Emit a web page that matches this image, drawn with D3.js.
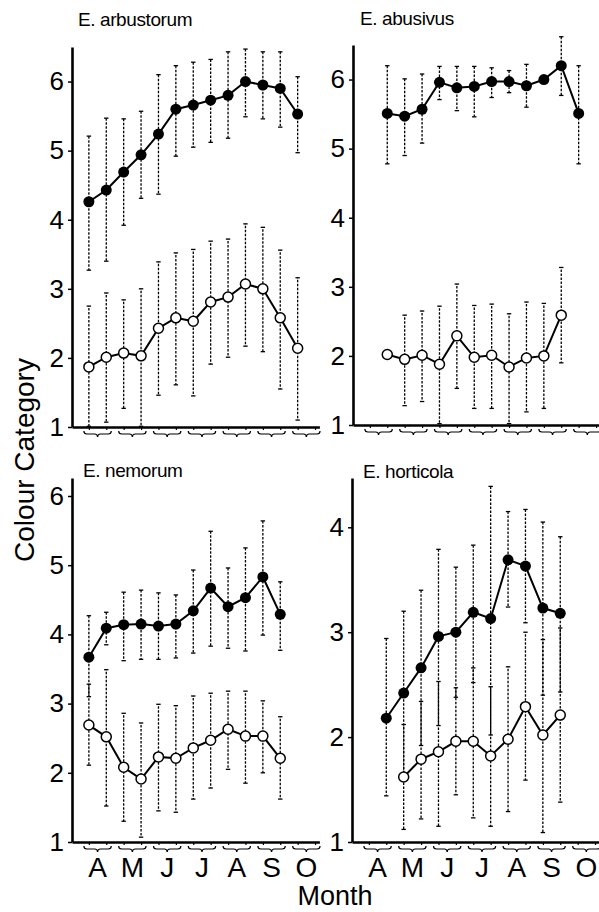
<!DOCTYPE html>
<html>
<head>
<meta charset="utf-8">
<script src="https://cdn.jsdelivr.net/npm/d3@7"></script>
<style>
    body { margin: 0; background: #fff; }
    svg { display: block; }
    text { font-family: "Liberation Sans", Arial, Helvetica, sans-serif; fill: #000; }
</style>
</head>
<body>
<div id="chart"></div>
<script>

// Half-month sampling periods (first / second half of each month)
const halfMonths = ["Apr-1", "Apr-2", "May-1", "May-2", "Jun-1", "Jun-2", "Jul-1", "Jul-2",
                    "Aug-1", "Aug-2", "Sep-1", "Sep-2", "Oct-1", "Oct-2"]
const monthLabels = ["A", "M", "J", "J", "A", "S", "O"]
const yTicksWide = [1, 2, 3, 4, 5, 6]
const yTicksHort = [1, 2, 3, 4]

// E. arbustorum
const arbDarkMean = [4.26, 4.43, 4.69, 4.94, 5.24, 5.60, 5.66, 5.73, 5.80, 6.00, 5.95, 5.90, 5.53, null]
const arbDarkHi   = [5.21, 5.47, 5.46, 5.57, 6.10, 6.23, 6.28, 6.32, 6.43, 6.47, 6.43, 6.43, 6.07, null]
const arbDarkLo   = [3.27, 3.40, 3.92, 4.31, 4.37, 4.92, 5.05, 5.12, 5.18, 5.49, 5.46, 5.34, 4.97, null]
const arbPaleMean = [1.87, 2.01, 2.07, 2.03, 2.43, 2.58, 2.53, 2.81, 2.88, 3.07, 3.00, 2.58, 2.14, null]
const arbPaleHi   = [2.75, 2.94, 2.84, 3.00, 3.39, 3.52, 3.57, 3.69, 3.72, 3.94, 3.89, 3.56, 3.16, null]
const arbPaleLo   = [1.01, 1.07, 1.27, 1.01, 1.46, 1.61, 1.45, 1.91, 2.01, 2.17, 2.09, 1.55, 1.10, null]

// E. abusivus
const abuDarkMean = [null, 5.51, 5.47, 5.57, 5.96, 5.88, 5.90, 5.97, 5.97, 5.91, 6.00, 6.20, 5.51, null]
const abuDarkHi   = [null, 6.20, 6.01, 6.08, 6.19, 6.19, 6.19, 6.17, 6.13, 6.22, null, 6.62, 6.20, null]
const abuDarkLo   = [null, 4.78, 4.90, 5.08, 5.71, 5.55, 5.46, 5.74, 5.81, 5.60, null, 5.77, 4.78, null]
const abuPaleMean = [null, 2.02, 1.95, 2.01, 1.88, 2.29, 1.98, 2.01, 1.84, 1.97, 2.00, 2.59, null, null]
const abuPaleHi   = [null, null, 2.59, 2.65, 2.72, 3.04, 2.73, 2.75, 2.61, 2.78, 2.76, 3.28, null, null]
const abuPaleLo   = [null, null, 1.28, 1.34, 1.02, 1.53, 1.24, 1.24, 1.02, 1.19, 1.24, 1.90, null, null]

// E. nemorum
const nemDarkMean = [3.67, 4.09, 4.14, 4.15, 4.12, 4.15, 4.34, 4.67, 4.40, 4.53, 4.83, 4.29, null, null]
const nemDarkHi   = [4.27, 4.32, 4.61, 4.64, 4.60, 4.57, 4.93, 5.49, 4.96, 5.25, 5.64, 4.76, null, null]
const nemDarkLo   = [3.10, 3.85, 3.62, 3.64, 3.64, 3.66, 3.73, 3.83, 3.80, 3.76, 3.99, 3.77, null, null]
const nemPaleMean = [2.69, 2.52, 2.08, 1.91, 2.23, 2.21, 2.36, 2.47, 2.63, 2.53, 2.53, 2.21, null, null]
const nemPaleHi   = [3.28, 3.49, 2.86, 2.72, 2.99, 2.97, 3.11, 3.15, 3.18, 3.18, 3.04, 2.81, null, null]
const nemPaleLo   = [2.11, 1.52, 1.30, 1.07, 1.45, 1.43, 1.62, 1.78, 2.05, 1.85, 2.00, 1.62, null, null]

// E. horticola
const horDarkMean = [null, 2.18, 2.42, 2.66, 2.96, 3.00, 3.19, 3.13, 3.69, 3.63, 3.23, 3.18, null, null]
const horDarkHi   = [null, 2.94, 3.20, 3.40, 3.79, 3.62, 3.83, 4.39, 4.15, 4.17, 4.05, 3.91, null, null]
const horDarkLo   = [null, 1.44, 1.66, 1.92, 2.11, 2.38, 2.52, 2.02, 3.24, 3.09, 2.40, 2.43, null, null]
const horPaleMean = [null, null, 1.62, 1.79, 1.86, 1.96, 1.96, 1.82, 1.98, 2.29, 2.02, 2.21, null, null]
const horPaleHi   = [null, null, 2.12, 2.34, 2.53, 2.47, 2.66, 2.48, 2.67, 3.00, 2.93, 3.04, null, null]
const horPaleLo   = [null, null, 1.12, 1.22, 1.15, 1.45, 1.23, 1.15, 1.29, 1.59, 1.09, 1.38, null, null]

// Panel layout (positions only)
let panels = [
    {title: "E. arbustorum", tx: 78, ty: 26, axisX: 72, yBottom: 427, yTop: 47, yMax: 6.5, ticks: yTicksWide, labels: false,
     dark: [arbDarkMean, arbDarkHi, arbDarkLo], pale: [arbPaleMean, arbPaleHi, arbPaleLo]},
    {title: "E. abusivus", tx: 360, ty: 25, axisX: 353, yBottom: 425, yTop: 45, yMax: 6.5, ticks: yTicksWide, labels: false,
     dark: [abuDarkMean, abuDarkHi, abuDarkLo], pale: [abuPaleMean, abuPaleHi, abuPaleLo]},
    {title: "E. nemorum", tx: 83, ty: 477, axisX: 72, yBottom: 842, yTop: 478, yMax: 6.26, ticks: yTicksWide, labels: true,
     dark: [nemDarkMean, nemDarkHi, nemDarkLo], pale: [nemPaleMean, nemPaleHi, nemPaleLo]},
    {title: "E. horticola", tx: 363, ty: 478, axisX: 352, yBottom: 842, yTop: 478, yMax: 4.47, ticks: yTicksHort, labels: true,
     dark: [horDarkMean, horDarkHi, horDarkLo], pale: [horPaleMean, horPaleHi, horPaleLo]}
]

let svg = d3.select("#chart").append("svg")
    .attr("width", 599)
    .attr("height", 912)

function toPoints(series){
    return series[0].map((v, i) => ({i: i, v: v, hi: series[1][i], lo: series[2][i]}))
        .filter(d => d.v != null)
}

panels.forEach(p => {

    let x = d3.scaleLinear()
        .domain([-0.97, 13.25])
        .range([p.axisX, p.axisX + 247.4])

    let y = d3.scaleLinear()
        .domain([1, p.yMax])
        .range([p.yBottom, p.yTop])

    let g = svg.append("g")

    // Title
    g.append("text")
        .attr("x", p.tx)
        .attr("y", p.ty)
        .style("font-size", "19px")
        .style("letter-spacing", "-0.4px")
        .text(p.title)

    // Y axis
    let yAxis = g.append("g")
        .attr("transform", `translate(${p.axisX},0)`)
        .call(d3.axisLeft(y).tickValues(p.ticks).tickFormat(d3.format("d")).tickSize(4).tickPadding(4).tickSizeOuter(0))
    yAxis.select(".domain").attr("stroke-width", 2.6)
    yAxis.selectAll(".tick line").attr("stroke-width", 1.5)
    yAxis.selectAll(".tick text").style("font-size", "26px").attr("font-family", null)

    // X axis with half-month ticks
    let xAxis = g.append("g")
        .attr("transform", `translate(0,${p.yBottom})`)
        .call(d3.axisBottom(x).tickValues(d3.range(halfMonths.length)).tickSize(3).tickFormat("").tickSizeOuter(0))
    xAxis.select(".domain").attr("stroke-width", 2.6)
    xAxis.selectAll(".tick line").attr("stroke-width", 1.2)

    // Braces grouping the two halves of each month
    let braces = g.append("g")
    monthLabels.forEach((m, k) => {
        let x1 = x(2 * k) - 5, x2 = x(2 * k + 1) + 5, xc = (x1 + x2) / 2
        let y0 = p.yBottom + 7
        let path = d3.path()
        path.moveTo(x1, y0 - 3)
        path.quadraticCurveTo(x1, y0, x1 + 3, y0)
        path.lineTo(xc - 3, y0)
        path.quadraticCurveTo(xc, y0, xc, y0 + 3)
        path.quadraticCurveTo(xc, y0, xc + 3, y0)
        path.lineTo(x2 - 3, y0)
        path.quadraticCurveTo(x2, y0, x2, y0 - 3)
        braces.append("path")
            .attr("d", path.toString())
            .attr("fill", "none")
            .attr("stroke", "#000")
            .attr("stroke-width", 1.2)

        if(p.labels){
            g.append("text")
                .attr("x", xc)
                .attr("y", 877)
                .attr("text-anchor", "middle")
                .style("font-size", "28px")
                .text(m)
        }
    })

    let dark = toPoints(p.dark)
    let pale = toPoints(p.pale)

    // Error bars (dashed); pale ones are phase shifted so overlaps look solid
    let drawBars = (pts, offset) => {
        let bars = g.append("g")
        let withBar = pts.filter(d => d.hi != null)
        bars.selectAll("line.bar")
            .data(withBar)
            .enter()
            .append("line")
            .attr("class", "bar")
            .attr("x1", d => x(d.i))
            .attr("x2", d => x(d.i))
            .attr("y1", d => y(d.hi))
            .attr("y2", d => y(d.lo))
            .attr("stroke", "#000")
            .attr("stroke-width", 1.3)
            .attr("stroke-dasharray", "2.5,1.5")
            .attr("stroke-dashoffset", offset)
        let caps = withBar.flatMap(d => [{i: d.i, v: d.hi}, {i: d.i, v: d.lo}])
        bars.selectAll("line.cap")
            .data(caps)
            .enter()
            .append("line")
            .attr("class", "cap")
            .attr("x1", d => x(d.i) - 2.2)
            .attr("x2", d => x(d.i) + 2.2)
            .attr("y1", d => y(d.v))
            .attr("y2", d => y(d.v))
            .attr("stroke", "#000")
            .attr("stroke-width", 1.3)
    }
    drawBars(dark, 0)
    drawBars(pale, 2)

    // Mean lines
    let line = d3.line()
        .x(d => x(d.i))
        .y(d => y(d.v))

    ;[dark, pale].forEach(pts => {
        g.append("path")
            .datum(pts)
            .attr("d", line)
            .attr("fill", "none")
            .attr("stroke", "#000")
            .attr("stroke-width", 2)
    })

    // Markers
    g.append("g").selectAll("circle")
        .data(dark)
        .enter()
        .append("circle")
        .attr("cx", d => x(d.i))
        .attr("cy", d => y(d.v))
        .attr("r", 5.5)
        .attr("fill", "#000")

    g.append("g").selectAll("circle")
        .data(pale)
        .enter()
        .append("circle")
        .attr("cx", d => x(d.i))
        .attr("cy", d => y(d.v))
        .attr("r", 5)
        .attr("fill", "#fff")
        .attr("stroke", "#000")
        .attr("stroke-width", 1.5)
})

// Axis titles
svg.append("text")
    .attr("transform", "translate(34,460) rotate(-90)")
    .attr("text-anchor", "middle")
    .style("font-size", "28px")
    .text("Colour Category")

svg.append("text")
    .attr("x", 335)
    .attr("y", 905)
    .attr("text-anchor", "middle")
    .style("font-size", "27px")
    .text("Month")

</script>
</body>
</html>
